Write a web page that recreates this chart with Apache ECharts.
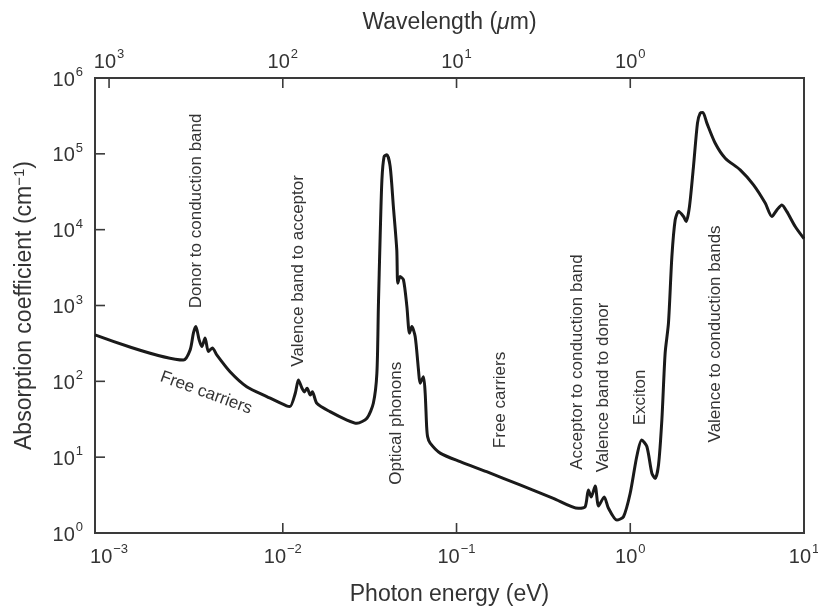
<!DOCTYPE html>
<html>
<head>
<meta charset="utf-8">
<script src="https://cdn.jsdelivr.net/npm/echarts@6/dist/echarts.min.js"></script>
<style>
  html, body { margin: 0; padding: 0; background: #fff; }
  #chart { width: 818px; height: 607px; }
</style>
</head>
<body>
<div id="chart"></div>
<script>
// photon energy (eV) and absorption coefficient (cm^-1)
const energy = [
  0.00083, 0.00268, 0.00293, 0.00306, 0.00316, 0.00330, 0.00342, 0.00357, 0.00373, 0.00393,
  0.00417, 0.00497, 0.00620, 0.00809, 0.0105, 0.0110, 0.0118, 0.0123, 0.0129, 0.0133,
  0.0138, 0.0144, 0.0148, 0.0157, 0.0187, 0.0234, 0.0267, 0.0305, 0.0332, 0.0348,
  0.0355, 0.0363, 0.0372, 0.0383, 0.0397, 0.0415, 0.0433, 0.0453, 0.0459, 0.0473,
  0.0495, 0.0518, 0.0536, 0.0553, 0.0578, 0.0604, 0.0617, 0.0645, 0.0660, 0.0673,
  0.0682, 0.0705, 0.0805, 0.105, 0.149, 0.232, 0.361, 0.503, 0.550, 0.574,
  0.596, 0.628, 0.657, 0.708, 0.749, 0.837, 0.914, 0.999, 1.09, 1.163,
  1.246, 1.332, 1.391, 1.454, 1.520, 1.588, 1.659, 1.736, 1.814, 1.895,
  2.025, 2.098, 2.192, 2.311, 2.437, 2.526, 2.618, 2.761, 3.083, 3.52,
  4.29, 5.12, 5.98, 6.53, 6.98, 7.46, 7.97, 8.90, 10
];
const absorption = [
  409, 191, 260, 435, 527, 352, 287, 374, 247, 276,
  223, 134, 85, 63, 47.4, 46.4, 69.7, 104, 81, 72.5,
  81, 66, 73, 51.4, 39.8, 30.9, 28.0, 32.6, 51.4, 128,
  968, 7330, 45400, 92100, 97000, 68000, 20200, 5420, 1970, 2410,
  2180, 968, 431, 527, 389, 141, 94.4, 115, 69.7, 25.3,
  18.5, 15.3, 11.3, 8.72, 6.44, 4.30, 2.87, 2.12, 2.22, 3.69,
  2.99, 4.17, 2.27, 2.99, 2.12, 1.48, 1.64, 3.34, 10.2, 16.9,
  13.8, 6.13, 5.24, 7.89, 30.9, 237, 584, 4420, 13500, 17300,
  14900, 12800, 20200, 68000, 254000, 344000, 351000, 254000, 138000, 87700,
  61500, 39000, 22400, 14900, 18200, 21200, 17300, 11000, 7600
];

const energyLabels = [0.001, 0.01, 0.1, 1, 10];
const energyTicks = [0.01, 0.1, 1];
const wavelengthLabels = [1000, 100, 10, 1];
const wavelengthTicks = [1000, 100, 10, 1];
const absorptionLabels = [1, 10, 100, 1000, 10000, 100000, 1000000];
const absorptionTicks = [10, 100, 1000, 10000, 100000];

// [text, energy, absorption, angle in degrees]
const notes = [
  ['Donor to conduction band', 0.00317, 17700, 90],
  ['Valence band to acceptor', 0.01225, 2860, 90],
  ['Optical phonons', 0.0449, 28, 90],
  ['Free carriers', 0.178, 56.8, 90],
  ['Acceptor to conduction band', 0.494, 180, 90],
  ['Valence band to donor', 0.698, 83.1, 90],
  ['Exciton', 1.14, 61.3, 90],
  ['Valence to conduction bands', 3.08, 422, 90],
  ['Free carriers', 0.00362, 70.3, -20]
];

const ink = '#333';
const frame = '#3a3a3a';
const font = 'Liberation Sans, Arial, sans-serif';
const tickLen = 10;

function pow10(v) {
  const e = Math.round(Math.log10(v));
  return '{b|10}{s|' + (e < 0 ? '\u2212' + (-e) : e) + '}';
}
const tickRich = {
  b: { fontSize: 20, color: ink, fontFamily: font, lineHeight: 24, verticalAlign: 'bottom' },
  s: { fontSize: 13, color: ink, fontFamily: font, lineHeight: 24, verticalAlign: 'top', padding: [0, 0, 8, 1] }
};
const nameStyle = {
  fontSize: 23, color: ink, fontFamily: font,
  rich: {
    i: { fontSize: 23, color: ink, fontFamily: font, fontStyle: 'italic' },
    s: { fontSize: 15, color: ink, fontFamily: font, verticalAlign: 'top', padding: [0, 0, 10, 0] }
  }
};
const lineStyle = { show: true, lineStyle: { color: frame, width: 2 } };

const xMin = 0.00083, xMax = 10;
const yMin = 1, yMax = 1000000;

const chart = echarts.init(document.getElementById('chart'));
chart.setOption({
  animation: false,
  backgroundColor: '#fff',
  grid: {
    left: 95, right: 14, top: 78, bottom: 74,
    outerBoundsMode: 'none', containLabel: false,
    show: true, borderColor: frame, borderWidth: 2
  },
  xAxis: [{
    type: 'log', min: xMin, max: xMax,
    name: 'Photon energy (eV)', nameLocation: 'middle', nameGap: 50,
    nameTextStyle: nameStyle,
    axisLine: lineStyle,
    axisTick: { show: false },
    axisLabel: { customValues: energyLabels, formatter: pow10, rich: tickRich, margin: 10 },
    minorTick: { show: false }, splitLine: { show: false }
  }, {
    type: 'log', position: 'top', inverse: true, min: 1 / xMax, max: 1 / xMin,
    name: 'Wavelength ({i|\u03bc}m)', nameLocation: 'middle', nameGap: 44,
    nameTextStyle: nameStyle,
    axisLine: lineStyle,
    axisTick: { show: false },
    axisLabel: { customValues: wavelengthLabels, formatter: pow10, rich: tickRich, margin: 6 },
    minorTick: { show: false }, splitLine: { show: false }
  }],
  yAxis: {
    type: 'log', min: yMin, max: yMax,
    name: 'Absorption coefficient (cm{s|\u22121})', nameLocation: 'middle', nameGap: 58,
    nameTextStyle: nameStyle,
    axisLine: lineStyle,
    axisTick: { show: false },
    axisLabel: { customValues: absorptionLabels, formatter: pow10, rich: tickRich, margin: 12 },
    minorTick: { show: false }, splitLine: { show: false }
  },
  series: [{
    type: 'line',
    data: energy.map((e, i) => [e, absorption[i]]),
    showSymbol: false,
    smooth: 0.25,
    lineStyle: { color: '#1a1a1a', width: 3 }
  }]
});

// inward ticks and annotations, positioned through the axes' own scales
const plotTop = chart.convertToPixel({ yAxisIndex: 0 }, yMax);
const plotBottom = chart.convertToPixel({ yAxisIndex: 0 }, yMin);
const plotLeft = chart.convertToPixel({ xAxisIndex: 0 }, xMin);
const tick = (x1, y1, x2, y2) => ({
  type: 'line', silent: true, z: 10,
  shape: { x1, y1, x2, y2 }, style: { stroke: frame, lineWidth: 1.6 }
});
const ticks = [
  ...energyTicks.map(v => {
    const x = chart.convertToPixel({ xAxisIndex: 0 }, v);
    return tick(x, plotBottom, x, plotBottom - tickLen);
  }),
  ...wavelengthTicks.map(v => {
    const x = chart.convertToPixel({ xAxisIndex: 1 }, v);
    return tick(x, plotTop, x, plotTop + tickLen);
  }),
  ...absorptionTicks.map(v => {
    const y = chart.convertToPixel({ yAxisIndex: 0 }, v);
    return tick(plotLeft, y, plotLeft + tickLen, y);
  })
];
const labels = notes.map(([text, e, a, deg]) => {
  const [px, py] = chart.convertToPixel({ xAxisIndex: 0, yAxisIndex: 0 }, [e, a]);
  return {
    type: 'text', x: px, y: py, rotation: deg * Math.PI / 180,
    style: { text, fontSize: 17, fontFamily: font, fill: ink, align: 'center', verticalAlign: 'middle' }
  };
});
chart.setOption({ graphic: ticks.concat(labels) });
</script>
</body>
</html>
